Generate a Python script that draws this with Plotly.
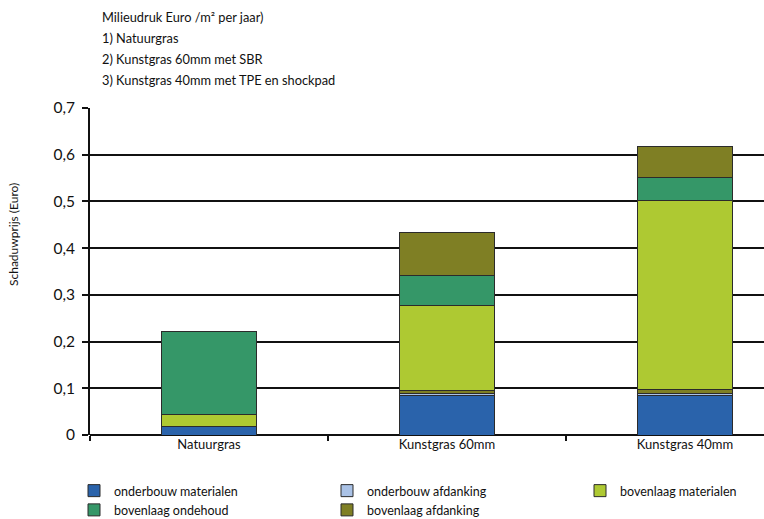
import plotly.graph_objects as go

categories = ["Natuurgras", "Kunstgras 60mm", "Kunstgras 40mm"]
onderbouw_materialen = [0.018, 0.0835, 0.0835]
onderbouw_afdanking = [0.0, 0.0045, 0.0055]
tussenlaag = [0.0, 0.008, 0.009]
bovenlaag_materialen = [0.025, 0.182, 0.405]
bovenlaag_ondehoud = [0.178, 0.063, 0.048]
bovenlaag_afdanking = [0.0, 0.092, 0.066]

y_ticks = [0, 0.1, 0.2, 0.3, 0.4, 0.5, 0.6, 0.7]
y_ticktext = ["0", "0,1", "0,2", "0,3", "0,4", "0,5", "0,6", "0,7"]

title_lines = [
    "Milieudruk Euro /m² per jaar)",
    "1) Natuurgras",
    "2) Kunstgras 60mm met SBR",
    "3) Kunstgras 40mm met TPE en shockpad",
]

FONT = "Lato"
series = [
    ("onderbouw materialen", onderbouw_materialen, "#2a63ab", True),
    ("onderbouw afdanking", onderbouw_afdanking, "#aac2e6", True),
    ("bovenlaag afdanking ", tussenlaag, "#7e7f22", False),
    ("bovenlaag materialen", bovenlaag_materialen, "#aec932", True),
    ("bovenlaag ondehoud", bovenlaag_ondehoud, "#359768", True),
    ("bovenlaag afdanking", bovenlaag_afdanking, "#7f7f24", True),
]

fig = go.Figure()
for name, vals, col, show in series:
    fig.add_trace(go.Bar(
        x=categories, y=vals, name=name, marker_color=col,
        marker_line=dict(color="#2b2b2b", width=1), width=0.4,
        showlegend=show,
    ))

W, H = 764, 519
ml, mr, mt, mb = 90, 0, 108, 84
pw = W - ml - mr
ph = H - mt - mb

annotations = []
for i, t in enumerate(title_lines):
    annotations.append(dict(
        text=t, xref="paper", yref="paper", x=(100 - ml) / pw,
        y=1 + (mt - (17 + 21 * i)) / ph, xanchor="left", yanchor="middle",
        showarrow=False, font=dict(family=FONT, size=12.8, color="#111"),
    ))
annotations.append(dict(
    text="Schaduwprijs (Euro)", xref="paper", yref="paper",
    x=(13 - ml) / pw, y=(H - mb - 235) / ph, textangle=-90,
    xanchor="center", yanchor="middle", showarrow=False,
    font=dict(family=FONT, size=12, color="#111"),
))

fig.update_layout(
    barmode="stack",
    width=W, height=H,
    margin=dict(l=ml, r=mr, t=mt, b=mb, autoexpand=False),
    paper_bgcolor="white", plot_bgcolor="white",
    font=dict(family=FONT, color="#111"),
    annotations=annotations,
    legend=dict(
        orientation="h", x=-16 / pw, xanchor="left", y=-(476 - (H - mb)) / ph,
        yanchor="top", font=dict(family=FONT, size=12.5),
        entrywidth=208, itemwidth=30, traceorder="normal",
    ),
    xaxis=dict(
        range=[-0.5, -0.5 + pw / 238.0], showgrid=False,
        showline=False, ticks="outside", tickson="boundaries",
        ticklen=5, tickwidth=2, tickcolor="#111",
        tickfont=dict(family=FONT, size=13, color="#111"),
    ),
    yaxis=dict(
        range=[0, 0.7], tickvals=y_ticks, ticktext=y_ticktext,
        showgrid=True, gridcolor="#111", gridwidth=1.5,
        showline=True, linecolor="#111", linewidth=2,
        ticks="outside", ticklen=6, tickwidth=1.5, tickcolor="#111",
        tickfont=dict(family=FONT, size=15.5, color="#111"),
        zeroline=True, zerolinecolor="#111", zerolinewidth=2,
        ticklabelstandoff=4,
    ),
)

fig.write_html("out.html")
